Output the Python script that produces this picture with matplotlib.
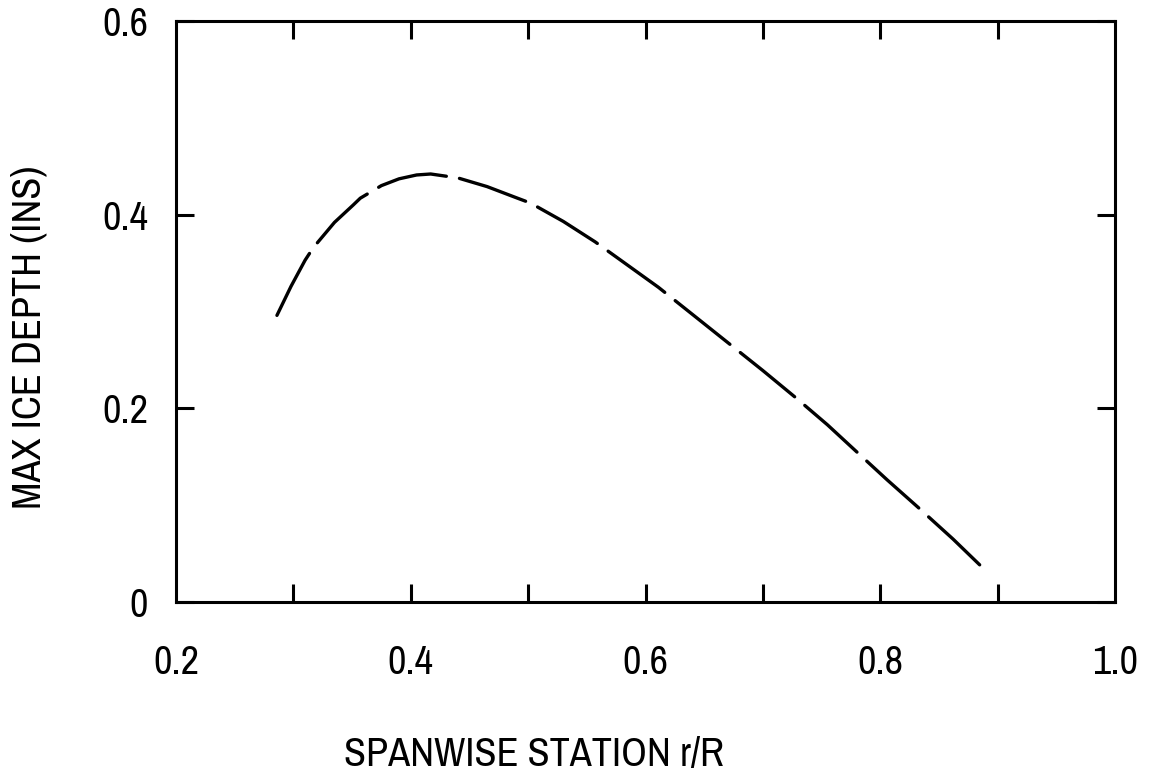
import matplotlib
matplotlib.use("Agg")
import matplotlib.pyplot as plt
from matplotlib import font_manager

# Data
span_r = [0.286, 0.298, 0.310, 0.317, 0.335, 0.351, 0.357, 0.375, 0.390, 0.405,
          0.417, 0.440, 0.465, 0.491, 0.502, 0.530, 0.557, 0.580, 0.611, 0.640,
          0.670, 0.700, 0.728, 0.755, 0.780, 0.806, 0.832, 0.862, 0.891]
ice_depth = [0.296, 0.326, 0.353, 0.366, 0.392, 0.410, 0.417, 0.430, 0.437, 0.441,
             0.442, 0.438, 0.429, 0.417, 0.412, 0.393, 0.372, 0.352, 0.325, 0.297,
             0.268, 0.239, 0.211, 0.183, 0.155, 0.126, 0.098, 0.065, 0.031]
x_ticks = [0.3, 0.4, 0.5, 0.6, 0.7, 0.8, 0.9]
x_labels = ["0.2", "0.4", "0.6", "0.8", "1.0"]
x_label_pos = [0.2, 0.4, 0.6, 0.8, 1.0]
y_ticks = [0.0, 0.2, 0.4, 0.6]
y_labels = ["0", "0.2", "0.4", "0.6"]

# pick the narrowest available regular sans face
def pick_font():
    best = None
    for f in font_manager.fontManager.ttflist:
        if f.style != 'normal':
            continue
        w = f.weight if isinstance(f.weight, int) else 400
        if w not in (400, 'normal', 'regular') and w != 400:
            continue
        nm = f.name.lower()
        st = str(f.stretch).lower()
        score = None
        if 'narrow' in nm or 'condensed' in nm:
            score = 0
        elif st in ('condensed', 'extra-condensed', 'ultra-condensed', 'semi-condensed'):
            score = 1
        elif isinstance(f.stretch, int) and f.stretch < 100:
            score = 1
        if score is not None and (best is None or score < best[0]):
            best = (score, f.fname)
    return best[1] if best else None

fpath = pick_font()
if fpath:
    fp = font_manager.FontProperties(fname=fpath, size=29)
else:
    fp = font_manager.FontProperties(family='DejaVu Sans', size=27)

fig = plt.figure(figsize=(11.63, 7.78), dpi=100)
ax = fig.add_axes([176/1163, 1-602/778, (1115-176)/1163, (602-21)/778])

line, = ax.plot(span_r, ice_depth, color='black', lw=2.4,
                dash_capstyle='round', solid_capstyle='round')
line.set_dashes([21, 4])

ax.set_xlim(0.2, 1.0)
ax.set_ylim(0.0, 0.6)

for s in ax.spines.values():
    s.set_linewidth(2.2)

ax.set_xticks(x_ticks)
ax.set_xticklabels([])
ax.set_yticks(y_ticks)
ax.set_yticklabels(y_labels, fontproperties=fp)
ax.tick_params(axis='both', direction='in', length=13, width=2.2,
               top=True, right=True)
ax.tick_params(axis='y', pad=20)

for xv, lab in zip(x_label_pos, x_labels):
    ax.text(xv, -0.062, lab, ha='center', va='center', fontproperties=fp,
            transform=ax.transData, clip_on=False)

fig.text(534/1163, 1-755/778, "SPANWISE STATION r/R", ha='center', va='center',
         fontproperties=fp)
fig.text(29/1163, 1-337/778, "MAX ICE DEPTH (INS)", ha='center', va='center',
         rotation=90, fontproperties=fp)

fig.savefig("out.png", dpi=100)
